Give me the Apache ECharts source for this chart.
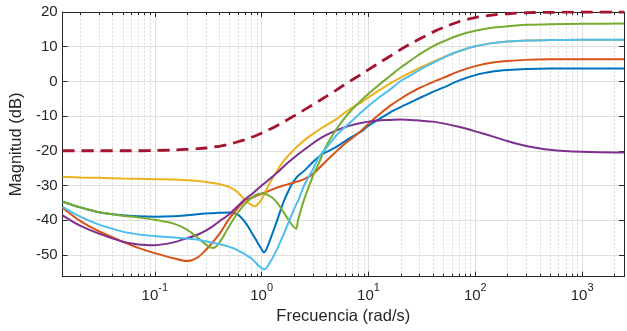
<!DOCTYPE html>
<html><head><meta charset="utf-8">
<script src="https://cdn.jsdelivr.net/npm/echarts@6/dist/echarts.min.js"></script>
<style>html,body{margin:0;padding:0;background:#fff}#c{width:627px;height:331px}</style>
</head><body><div id="c"></div>
<script>
// Frequency grid (rad/s)
const freq = [0.0137, 0.02, 0.03, 0.05, 0.07, 0.1, 0.15, 0.2, 0.25, 0.3, 0.35, 0.4, 0.5, 0.6, 0.7, 0.8, 0.86, 0.92, 1.0, 1.05, 1.1, 1.15, 1.25, 1.4, 1.6, 1.8, 1.95, 2.1, 2.2, 2.5, 3, 3.5, 4, 5, 6, 7, 8.5, 10, 13, 16, 20, 25, 30, 40, 50, 70, 100, 150, 200, 300, 500, 1000, 2466];

// Magnitudes (dB)
const magBlue   = [-34.7,-36.3,-37.7,-38.6,-38.9,-39.0,-38.9,-38.6,-38.3,-38.1,-38.0,-37.9,-37.8,-38.4,-40.6,-43.4,-45.0,-46.6,-48.4,-49.3,-48.6,-47.2,-44.2,-40.0,-34.8,-31.3,-29.3,-27.9,-27.2,-25.8,-23.3,-21.5,-20.4,-18.9,-17.3,-16.0,-14.5,-12.8,-10.6,-8.9,-7.4,-6.0,-4.8,-3.0,-1.8,0.2,1.8,2.9,3.3,3.6,3.7,3.7,3.7];
const magOrange = [-36.4,-40.2,-43.2,-46.2,-48.0,-49.5,-51.0,-51.8,-50.8,-48.6,-46.3,-44.1,-39.5,-36.5,-34.4,-33.6,-33.2,-32.8,-32.4,-32.1,-31.9,-31.7,-31.2,-30.6,-30.0,-29.6,-29.3,-29.0,-28.8,-28.2,-26.8,-24.8,-23.0,-20.2,-18.0,-16.4,-14.3,-12.2,-9.2,-7.0,-5.0,-3.2,-1.9,-0.2,1.0,2.9,4.4,5.5,5.9,6.2,6.35,6.4,6.4];
const magYellow = [-27.5,-27.7,-27.8,-28.0,-28.1,-28.2,-28.3,-28.5,-28.7,-29.0,-29.3,-29.6,-30.5,-32.0,-34.3,-35.6,-36.0,-35.4,-34.0,-32.8,-31.5,-30.2,-28.2,-25.7,-23.0,-21.2,-20.1,-19.1,-18.5,-17.0,-15.2,-13.8,-12.7,-10.9,-9.0,-7.6,-6.1,-4.6,-2.3,-0.6,1.1,2.7,3.9,5.6,6.9,8.7,10.1,11.1,11.5,11.8,11.9,12.0,12.0];
const magPurple = [-38.6,-41.6,-43.9,-46.2,-47.0,-47.2,-46.4,-45.2,-44.2,-43.0,-41.7,-40.4,-38.2,-35.9,-34.0,-32.6,-31.8,-31.0,-30.0,-29.5,-29.0,-28.5,-27.6,-26.3,-24.6,-23.2,-22.3,-21.5,-21.0,-19.7,-17.9,-16.5,-15.5,-14.1,-13.2,-12.6,-12.0,-11.6,-11.2,-11.1,-11.0,-11.1,-11.3,-11.6,-12.1,-13.1,-14.4,-16.0,-17.2,-18.6,-19.7,-20.3,-20.5];
const magGreen  = [-34.7,-36.3,-37.7,-38.7,-39.2,-39.9,-41.0,-42.7,-45.0,-47.0,-48.0,-46.6,-41.6,-37.8,-35.3,-33.6,-32.9,-32.5,-32.3,-32.3,-32.5,-32.8,-33.5,-35.0,-37.6,-40.1,-41.6,-42.5,-39.8,-34.0,-27.5,-23.0,-18.8,-13.8,-10.5,-8.1,-5.6,-3.6,-0.6,1.6,4.0,6.1,7.8,10.1,11.5,13.3,14.6,15.5,15.9,16.3,16.5,16.6,16.7];
const magCyan   = [-36.2,-39.0,-41.3,-43.3,-44.1,-44.6,-45.0,-45.3,-45.6,-46.1,-46.5,-46.9,-47.7,-48.7,-49.9,-51.0,-51.9,-52.9,-53.8,-54.2,-53.9,-53.0,-51.2,-48.3,-44.2,-40.4,-37.8,-35.6,-34.3,-30.0,-25.5,-21.5,-19.3,-15.6,-13.2,-11.4,-9.0,-7.1,-4.3,-2.3,0.1,1.8,3.3,5.3,6.8,8.7,10.1,11.1,11.5,11.8,11.9,12.0,12.0];
const magRef    = [-20.0,-20.0,-20.0,-20.0,-20.0,-19.9,-19.8,-19.6,-19.4,-19.2,-18.9,-18.7,-18.1,-17.4,-16.8,-16.1,-15.8,-15.4,-14.9,-14.6,-14.3,-14.0,-13.5,-12.7,-11.7,-10.8,-10.2,-9.6,-9.3,-8.2,-6.8,-5.5,-4.4,-2.5,-0.9,0.4,2.0,3.4,5.6,7.3,9.2,10.9,12.2,14.2,15.5,17.2,18.4,19.2,19.5,19.8,19.9,20.0,20.0];

// Axis ranges and minor (log) tick positions
const X_MIN = 0.0137, X_MAX = 2466;
const Y_MIN = -56.3, Y_MAX = 20;
const minorTicks = [0.02,0.03,0.04,0.05,0.06,0.07,0.08,0.09,
  0.2,0.3,0.4,0.5,0.6,0.7,0.8,0.9,
  2,3,4,5,6,7,8,9,
  20,30,40,50,60,70,80,90,
  200,300,400,500,600,700,800,900,
  2000];

const FONT = "'Liberation Sans', Arial, Helvetica, sans-serif";
const AX = '#262626';

function pair(y) { return freq.map((f, i) => [f, y[i]]); }
function isPow10(v) { const l = Math.log10(v); return Math.abs(l - Math.round(l)) < 1e-6; }

const lines = [
  { name: 'b', data: magBlue,   color: '#0072BD' },
  { name: 'o', data: magOrange, color: '#D95319' },
  { name: 'y', data: magYellow, color: '#EDB120' },
  { name: 'p', data: magPurple, color: '#7E2F8E' },
  { name: 'g', data: magGreen,  color: '#77AC30' },
  { name: 'c', data: magCyan,   color: '#4DBEEE' }
];

const chart = echarts.init(document.getElementById('c'), null, { renderer: 'canvas' });

const xCommon = {
  type: 'log', logBase: 10, min: X_MIN, max: X_MAX,
  axisLine: { show: true, onZero: false, lineStyle: { color: AX, width: 1 } },
  axisTick: { show: true, inside: true, length: 5, lineStyle: { color: AX } },
  minorTick: { show: false }, minorSplitLine: { show: false }
};
const yCommon = {
  type: 'value', min: Y_MIN, max: Y_MAX, splitNumber: 7, minInterval: 10, maxInterval: 10,
  axisLine: { show: true, onZero: false, lineStyle: { color: AX, width: 1 } },
  axisTick: { show: true, inside: true, length: 5, lineStyle: { color: AX } }
};

const series = [{
  type: 'custom', z: 1, silent: true, xAxisIndex: 0, yAxisIndex: 0,
  data: minorTicks.map(v => [v, 0]),
  renderItem: function (params, api) {
    const v = api.value(0);
    const b = api.coord([v, Y_MIN]);
    const t = api.coord([v, Y_MAX]);
    const x = Math.round(b[0]) + 0.5;
    return { type: 'group', children: [
      { type: 'line', shape: { x1: x, y1: b[1], x2: x, y2: t[1] }, style: { stroke: '#d9d9d9', lineWidth: 1, lineDash: [2, 2] } },
      { type: 'line', shape: { x1: x, y1: b[1], x2: x, y2: b[1] - 3 }, style: { stroke: AX, lineWidth: 1 } },
      { type: 'line', shape: { x1: x, y1: t[1], x2: x, y2: t[1] + 3 }, style: { stroke: AX, lineWidth: 1 } }
    ] };
  }
}];
lines.forEach(l => series.push({
  type: 'line', name: l.name, data: pair(l.data), showSymbol: false, smooth: 0.3,
  lineStyle: { color: l.color, width: 2 }, itemStyle: { color: l.color }, z: 3, silent: true, clip: true
}));
series.push({
  type: 'line', name: 'ref', data: pair(magRef), showSymbol: false, smooth: 0.3,
  lineStyle: { color: '#A2142F', width: 2.8, type: [12, 7] }, itemStyle: { color: '#A2142F' }, z: 4, silent: true
});

chart.setOption({
  animation: false,
  backgroundColor: '#ffffff',
  grid: { left: 54, right: 1.5, top: 12, bottom: 54.3, containLabel: false },
  xAxis: [
    Object.assign({}, xCommon, {
      position: 'bottom',
      name: 'Frecuencia (rad/s)', nameLocation: 'middle', nameGap: 31,
      nameTextStyle: { color: AX, fontSize: 16.5, fontFamily: FONT },
      splitLine: { show: true, lineStyle: { color: '#dedede', width: 1 } },
      axisLabel: {
        show: true, margin: 6, color: AX, fontFamily: FONT,
        formatter: function (v) {
          if (!isPow10(v)) return '';
          return '{b|10}{s|' + Math.round(Math.log10(v)) + '}';
        },
        rich: {
          b: { fontSize: 15, lineHeight: 26, fontFamily: FONT, color: AX },
          s: { fontSize: 11, lineHeight: 11, verticalAlign: 'top', fontFamily: FONT, color: AX }
        }
      }
    }),
    Object.assign({}, xCommon, {
      position: 'top', axisLabel: { show: false }, splitLine: { show: false }
    })
  ],
  yAxis: [
    Object.assign({}, yCommon, {
      position: 'left',
      name: 'Magnitud (dB)', nameLocation: 'middle', nameGap: 28,
      nameTextStyle: { color: AX, fontSize: 16.5, fontFamily: FONT },
      splitLine: { show: true, lineStyle: { color: '#dedede', width: 1 } },
      axisLabel: { show: true, margin: 5, color: AX, fontSize: 15, fontFamily: FONT,
        formatter: function (v) { return Math.abs(v % 10) < 1e-9 ? String(v) : ''; } }
    }),
    Object.assign({}, yCommon, {
      position: 'right', axisLabel: { show: false }, splitLine: { show: false }
    })
  ],
  series: series
});
</script></body></html>
